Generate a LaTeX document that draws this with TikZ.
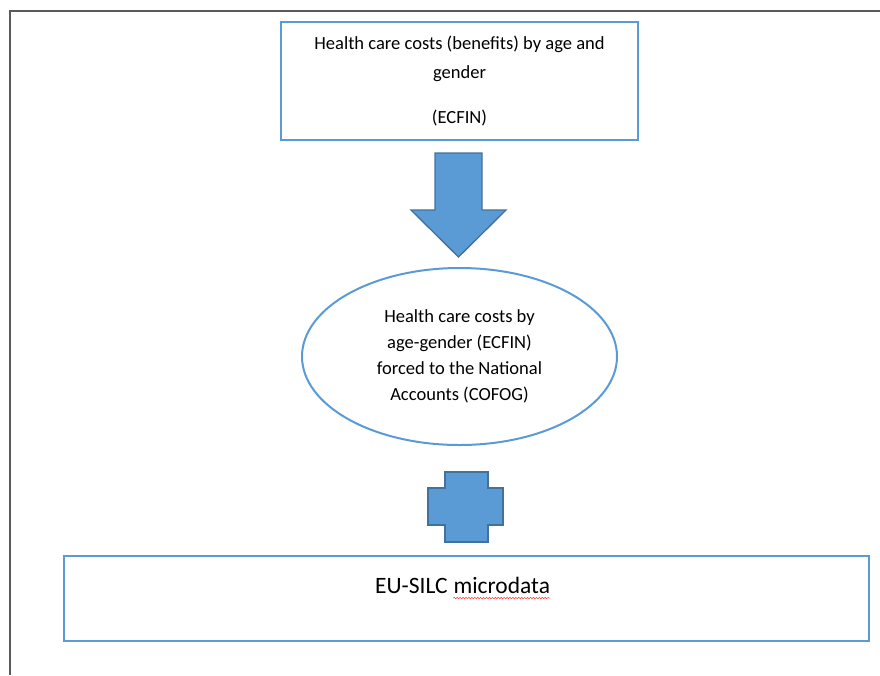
\documentclass[tikz,border=0pt]{standalone}
\usepackage{fontspec}
\setmainfont{Carlito}
\usepackage{xcolor}
\usetikzlibrary{shapes.geometric,decorations.pathmorphing}

\definecolor{boxblue}{HTML}{5B9BD5}
\definecolor{shapeblue}{HTML}{5B9BD5}
\definecolor{shapeedge}{HTML}{41719C}
\definecolor{framegray}{HTML}{5A5A5A}

\begin{document}
\begin{tikzpicture}[x=0.75pt, y=-0.75pt,
    bluebox/.style={draw=boxblue, line width=1.5pt, inner sep=0pt},
    blockshape/.style={fill=shapeblue, draw=shapeedge, line width=1pt, line join=miter},
    bodytext/.style={font=\fontsize{13.9}{19.5}\selectfont, align=center},
    bigtext/.style={font=\fontsize{17.6}{21}\selectfont, inner sep=0pt}]

    \useasboundingbox (0,0) rectangle (880,675);

    % Page frame: top and left edges only
    \draw[framegray, line width=1.5pt] (10,675) -- (10,11) -- (880,11);

    % Top box: ECFIN costs
    \node[bluebox, rectangle, minimum width=267.75pt, minimum height=88.5pt,
          bodytext, font=\fontsize{13.9}{21.75}\selectfont] (ecfin) at (459.5,81)
          {Health care costs (benefits) by age and\\ gender\\[12pt] (ECFIN)};

    % Block arrow down
    \draw[blockshape] (435,153) -- (482,153) -- (482,210) -- (506,210)
        -- (458.5,257) -- (411,210) -- (435,210) -- cycle;

    % Ellipse: costs forced to National Accounts
    \node[bluebox, ellipse, minimum width=236.25pt, minimum height=132.75pt,
          bodytext] (cofog) at (459.5,356.5)
          {Health care costs by\\ age-gender (ECFIN)\\ forced to the National\\ Accounts (COFOG)};

    % Plus sign
    \draw[blockshape] (445,472) -- (488,472) -- (488,488) -- (503,488) -- (503,525)
        -- (488,525) -- (488,542) -- (445,542) -- (445,525) -- (428,525)
        -- (428,488) -- (445,488) -- cycle;

    % Bottom box: EU-SILC, with spell-check wave under the second word
    \node[bluebox, rectangle, minimum width=603.75pt, minimum height=63.75pt] (silc) at (466.5,598.5) {};
    \node[bigtext, anchor=base east] (eusilc) at (448,593) {EU-SILC};
    \node[bigtext, anchor=base west] (micro) at ([xshift=4pt]eusilc.base east) {microdata};
    \draw[red!75, line width=0.4pt, decorate, decoration={snake, amplitude=0.6pt, segment length=2.2pt}]
        ([yshift=-3.8pt]micro.base west) -- ([yshift=-3.8pt]micro.base east);

\end{tikzpicture}
\end{document}
